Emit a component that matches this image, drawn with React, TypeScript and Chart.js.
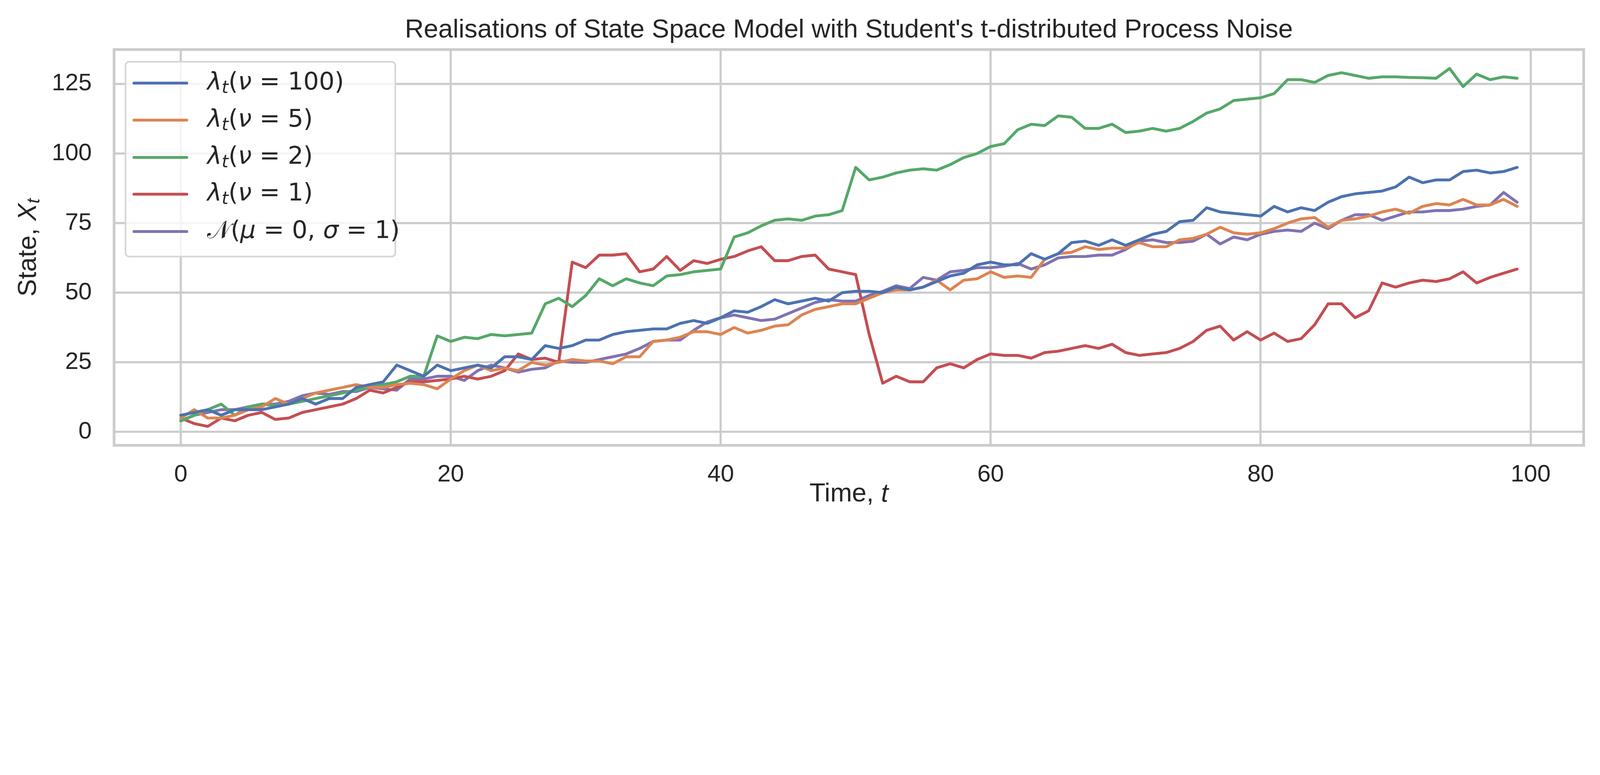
import { useEffect, useRef } from "react"
import { Chart, registerables } from "chart.js"

Chart.register(...registerables)

const times = Array.from({ length: 100 }, (_, i) => i)

const nu100 = [6, 7, 8, 6, 8, 8, 8, 9, 10, 12, 10, 12, 12, 16, 17, 18, 24, 22, 20, 24, 22, 23, 24, 23, 27, 27, 26, 31, 30, 31, 33, 33, 35, 36, 36.5, 37, 37, 39, 40, 39, 41, 43.5, 43, 45, 47.5, 46, 47, 48, 47, 50, 50.5, 50.5, 50, 52, 51, 52, 54, 56, 57, 60, 61, 60, 60, 64, 62, 64, 68, 68.5, 67, 69, 67, 69, 71, 72, 75.5, 76, 80.5, 79, 78.5, 78, 77.5, 81, 79, 80.5, 79.5, 82.5, 84.5, 85.5, 86, 86.5, 88, 91.5, 89.5, 90.5, 90.5, 93.5, 94, 93, 93.5, 95]
const nu5 = [5, 8, 5, 5, 6, 8, 9, 12, 10, 12, 14, 15, 16, 17, 16, 16, 17, 17.5, 17, 15.5, 19, 22, 24, 22, 23, 22, 25, 24, 25, 26, 25.5, 25.5, 24.5, 27, 27, 32.5, 33, 34, 36, 36, 35, 37.5, 35.5, 36.5, 38, 38.5, 42, 44, 45, 46, 46, 48, 50, 51, 51, 52, 54.5, 51, 54.5, 55, 57.5, 55.5, 56, 55.5, 62, 64, 64.5, 66.5, 65.5, 66, 66, 68, 66.5, 66.5, 69, 69.5, 71, 73.5, 71.5, 71, 71.5, 73, 75, 76.5, 77, 73.5, 76, 76.5, 77.5, 79, 80, 78.5, 81, 82, 81.5, 83.5, 81.5, 81.5, 83.5, 81]
const nu2 = [4, 6, 8, 10, 6, 9, 10, 9.5, 10, 11, 12, 13, 14, 15, 16, 17, 18, 20, 20, 34.5, 32.5, 34, 33.5, 35, 34.5, 35, 35.5, 46, 48, 45, 49, 55, 52.5, 55, 53.5, 52.5, 56, 56.5, 57.5, 58, 58.5, 70, 71.5, 74, 76, 76.5, 76, 77.5, 78, 79.5, 95, 90.5, 91.5, 93, 94, 94.5, 94, 96, 98.5, 100, 102.5, 103.5, 108.5, 110.5, 110, 113.5, 113, 109, 109, 110.5, 107.5, 108, 109, 108, 109, 111.5, 114.5, 116, 119, 119.5, 120, 121.5, 126.5, 126.5, 125.5, 128, 129, 128, 127, 127.5, 127.5, 127.3, 127.2, 127, 130.5, 124, 128.5, 126.5, 127.5, 127]
const nu1 = [5, 3, 2, 5, 4, 6, 7, 4.5, 5, 7, 8, 9, 10, 12, 15, 14, 16, 18, 18, 18.5, 19, 20, 19, 20, 22, 28, 26, 26.5, 25, 61, 59, 63.5, 63.5, 64, 57.5, 58.5, 63, 58, 61.5, 60.5, 62, 63, 65, 66.5, 61.5, 61.5, 63, 63.5, 58.5, 57.5, 56.5, 35, 17.5, 20, 18, 18, 23, 24.5, 23, 26, 28, 27.5, 27.5, 26.5, 28.5, 29, 30, 31, 30, 31.5, 28.5, 27.5, 28, 28.5, 30, 32.5, 36.5, 38, 33, 36, 33, 35.5, 32.5, 33.5, 38.5, 46, 46, 41, 43.5, 53.5, 52, 53.5, 54.5, 54, 55, 57.5, 53.5, 55.5, 57, 58.5]
const gauss = [4, 6, 7, 8, 8, 9, 10, 10, 11, 13, 14, 13.5, 14.5, 14.5, 16, 15.5, 15, 19, 19, 20, 20, 18.5, 22, 24, 23, 21.5, 22.5, 23, 25.5, 25, 25, 26, 27, 28, 30, 32.5, 33, 33, 36.5, 39.5, 41, 42, 41, 40, 40.5, 42.5, 44.5, 46.5, 47.5, 47, 47, 49, 50.5, 52.5, 51.5, 55.5, 54.5, 57.5, 58, 59, 59, 59.5, 60.5, 58.5, 60, 62.5, 63, 63, 63.5, 63.5, 65.5, 68.5, 69, 68, 68, 68.5, 71, 67.5, 70, 69, 71, 72, 72.5, 72, 75, 73, 76, 78, 78, 76, 77.5, 79, 79, 79.5, 79.5, 80, 81, 81.5, 86, 82.5]

const seriesColors = ["#4c72b0", "#dd8452", "#55a868", "#c44e52", "#8172b3"]
const xTicks = [0, 20, 40, 60, 80, 100]
const yTicks = [0, 25, 50, 75, 100, 125]

const TEXT = "#262626"
const GRID = "#cccccc"
const SANS = "'Liberation Sans', Arial, sans-serif"
const MATH = "'DejaVu Sans', sans-serif"

// design size of the reference, scaled to the real window
let K = 1
const px = (v: number) => v * K

type Piece = { t: string; italic?: boolean; sub?: boolean }

const legendLabels: Piece[][] = [
  [{ t: "λ", italic: true }, { t: "t", italic: true, sub: true }, { t: "(" }, { t: "ν", italic: true }, { t: " = 100)" }],
  [{ t: "λ", italic: true }, { t: "t", italic: true, sub: true }, { t: "(" }, { t: "ν", italic: true }, { t: " = 5)" }],
  [{ t: "λ", italic: true }, { t: "t", italic: true, sub: true }, { t: "(" }, { t: "ν", italic: true }, { t: " = 2)" }],
  [{ t: "λ", italic: true }, { t: "t", italic: true, sub: true }, { t: "(" }, { t: "ν", italic: true }, { t: " = 1)" }],
  [{ t: "𝒩" }, { t: "(" }, { t: "μ", italic: true }, { t: " = 0, " }, { t: "σ", italic: true }, { t: " = 1)" }],
]

function drawPieces(ctx: CanvasRenderingContext2D, pieces: Piece[], x: number, y: number, size: number, family: string) {
  let cx = x
  for (const p of pieces) {
    const s = p.sub ? size * 0.7 : size
    ctx.font = `${p.italic ? "italic " : ""}${s}px ${family}`
    ctx.fillText(p.t, cx, p.sub ? y + size * 0.22 : y)
    cx += ctx.measureText(p.t).width
  }
  return cx - x
}

function measurePieces(ctx: CanvasRenderingContext2D, pieces: Piece[], size: number, family: string) {
  let w = 0
  for (const p of pieces) {
    const s = p.sub ? size * 0.7 : size
    ctx.font = `${p.italic ? "italic " : ""}${s}px ${family}`
    w += ctx.measureText(p.t).width
  }
  return w
}

const decorPlugin = {
  id: "decor",
  afterDatasetsDraw(chart: Chart) {
    const { ctx, chartArea: a } = chart
    ctx.save()
    // spines
    ctx.strokeStyle = GRID
    ctx.lineWidth = px(10)
    ctx.strokeRect(a.left, a.top, a.right - a.left, a.bottom - a.top)

    // legend box
    ctx.fillStyle = "rgba(255,255,255,0.8)"
    ctx.strokeStyle = "#d6d6d6"
    ctx.lineWidth = px(6)
    ctx.beginPath()
    ctx.roundRect(px(461), px(227), px(1452 - 461), px(942 - 227), px(14))
    ctx.fill()
    ctx.stroke()
    const rows = [305, 441, 578, 713, 850]
    rows.forEach((ry, i) => {
      ctx.strokeStyle = seriesColors[i]
      ctx.lineWidth = px(10.5)
      ctx.lineCap = "round"
      ctx.beginPath()
      ctx.moveTo(px(492), px(ry))
      ctx.lineTo(px(686), px(ry))
      ctx.stroke()
      ctx.fillStyle = TEXT
      ctx.textBaseline = "middle"
      ctx.textAlign = "left"
      drawPieces(ctx, legendLabels[i], px(761), px(ry), px(90), MATH)
    })

    // title
    ctx.fillStyle = TEXT
    ctx.textAlign = "center"
    ctx.textBaseline = "middle"
    ctx.font = `${px(96)}px ${SANS}`
    const cx = (a.left + a.right) / 2
    ctx.fillText("Realisations of State Space Model with Student's t-distributed Process Noise", cx, px(112))

    // x label
    ctx.textAlign = "left"
    const xl: Piece[] = [{ t: "Time, " }, { t: "t", italic: true }]
    const xw = measurePieces(ctx, xl, px(96), SANS)
    drawPieces(ctx, xl, cx - xw / 2, px(1815), px(96), SANS)

    // y label
    ctx.save()
    ctx.translate(px(105), (a.top + a.bottom) / 2)
    ctx.rotate(-Math.PI / 2)
    const yl: Piece[] = [{ t: "State, " }, { t: "X", italic: true }, { t: "t", italic: true, sub: true }]
    const yw = measurePieces(ctx, yl, px(96), SANS)
    drawPieces(ctx, yl, -yw / 2, 0, px(96), SANS)
    ctx.restore()
    ctx.restore()
  },
}

export default function App() {
  const chartRef = useRef<HTMLCanvasElement>(null)
  const chartInstance = useRef<Chart | null>(null)
  const W = window.innerWidth
  K = W / 5877
  const H = 1983 * K

  useEffect(() => {
    if (!chartRef.current) return
    if (chartInstance.current) chartInstance.current.destroy()
    const ctx = chartRef.current.getContext("2d")
    if (!ctx) return

    const all = [nu100, nu5, nu2, nu1, gauss]
    chartInstance.current = new Chart(ctx, {
      type: "line",
      data: {
        datasets: all.map((vals, i) => ({
          label: String(i),
          data: times.map((t, k) => ({ x: t, y: vals[k] })),
          borderColor: seriesColors[i],
          borderWidth: px(10.5),
          pointRadius: 0,
          tension: 0,
          borderCapStyle: "round" as const,
          borderJoinStyle: "round" as const,
        })),
      },
      options: {
        responsive: false,
        animation: false,
        layout: { padding: { top: px(182), right: px(60), left: 0, bottom: 0 } },
        scales: {
          x: {
            type: "linear",
            min: -4.94,
            max: 103.93,
            afterBuildTicks: (s: any) => { s.ticks = xTicks.map((v) => ({ value: v })) },
            afterFit: (s: any) => { s.height = px(1983 - 1635) },
            grid: { color: GRID, lineWidth: px(8), drawTicks: false },
            border: { display: false },
            ticks: { color: TEXT, font: { size: px(88), family: SANS }, padding: px(56), maxRotation: 0 },
          },
          y: {
            min: -4.8,
            max: 137.3,
            afterBuildTicks: (s: any) => { s.ticks = yTicks.map((v) => ({ value: v })) },
            afterFit: (s: any) => { s.width = px(419) },
            grid: { color: GRID, lineWidth: px(8), drawTicks: false },
            border: { display: false },
            ticks: { color: TEXT, font: { size: px(88), family: SANS }, padding: px(82) },
          },
        },
        plugins: {
          legend: { display: false },
          tooltip: { enabled: false },
        },
      },
      plugins: [decorPlugin],
    })

    return () => {
      if (chartInstance.current) {
        chartInstance.current.destroy()
        chartInstance.current = null
      }
    }
  }, [])

  return (
    <div style={{ position: "absolute", left: 0, top: 0, width: W, height: H, background: "#fff" }}>
      <canvas ref={chartRef} width={W} height={H} style={{ width: W, height: H }} />
    </div>
  )
}
